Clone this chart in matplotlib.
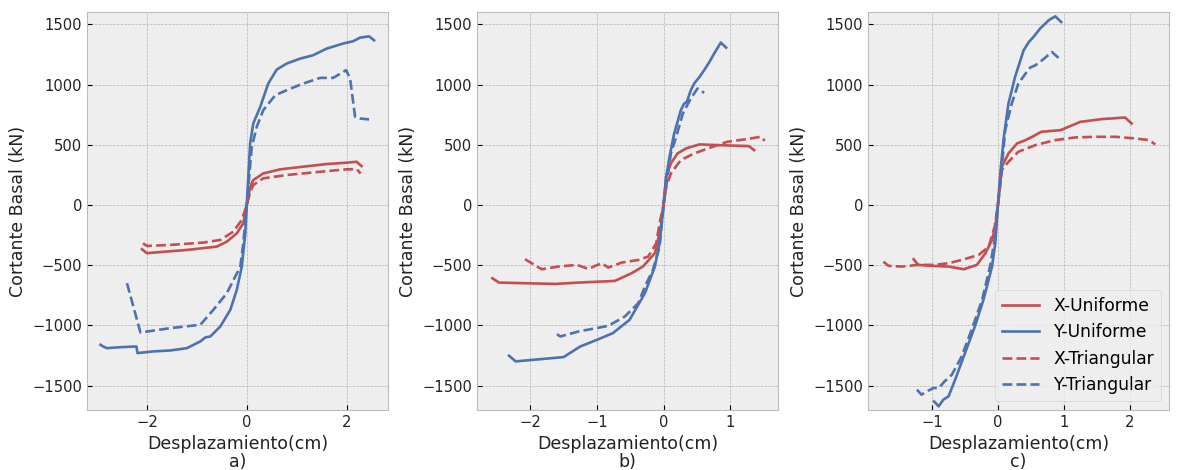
import matplotlib
matplotlib.use("Agg")
import matplotlib.pyplot as plt

plt.style.use("bmh")

RED = "#C44E52"
BLUE = "#4C72B0"

# ---- Panel a) ----
a_xu_x = [-2.1, -2.0, -1.87, -1.2, -0.6, -0.4, -0.2, -0.07, 0.0, 0.07, 0.13, 0.33, 0.67, 1.13, 1.6, 2.0, 2.2, 2.3]
a_xu_y = [-367, -400, -395, -373, -345, -304, -235, -152, 0, 152, 207, 262, 296, 318, 340, 351, 359, 323]
a_yu_x = [-2.93, -2.88, -2.8, -2.53, -2.21, -2.19, -1.87, -1.53, -1.2, -0.93, -0.83, -0.73, -0.53, -0.33, -0.2, -0.1, -0.03, 0.0,
          0.067, 0.13, 0.27, 0.43, 0.6, 0.8, 1.07, 1.33, 1.6, 1.93, 2.13, 2.27, 2.45, 2.55]
a_yu_y = [-1160, -1174, -1188, -1180, -1174, -1229, -1215, -1207, -1188, -1132, -1099, -1091, -1008, -870, -704, -511, -235, 0,
          511, 677, 815, 1008, 1124, 1174, 1215, 1243, 1298, 1340, 1359, 1389, 1400, 1367]
a_xt_x = [-2.08, -2.0, -1.53, -0.87, -0.53, -0.27, -0.1, 0.0, 0.07, 0.13, 0.33, 0.8, 1.47, 2.0, 2.2, 2.28]
a_xt_y = [-318, -340, -331, -312, -290, -221, -124, 0, 110, 166, 221, 249, 276, 296, 298, 262]
a_yt_x = [-2.4, -2.13, -1.53, -0.93, -0.67, -0.4, -0.13, -0.07, 0.0, 0.1, 0.2, 0.33, 0.57, 0.8, 1.13, 1.47, 1.73, 1.99, 2.07, 2.17, 2.27, 2.45]
a_yt_y = [-649, -1058, -1022, -994, -870, -732, -511, -318, 0, 483, 649, 787, 911, 953, 1008, 1055, 1055, 1119, 1050, 732, 718, 710]

# ---- Panel b) ----
b_xu_x = [-2.57, -2.47, -1.63, -1.28, -0.73, -0.48, -0.31, -0.13, -0.04, 0.0, 0.04, 0.11, 0.21, 0.34, 0.54, 0.81, 1.28, 1.36]
b_xu_y = [-608, -644, -655, -644, -630, -566, -511, -400, -180, 0, 235, 345, 428, 470, 503, 497, 489, 456]
b_yu_x = [-2.32, -2.22, -1.5, -1.25, -1.0, -0.76, -0.51, -0.28, -0.13, -0.06, 0.0, 0.04, 0.09, 0.16, 0.26, 0.31, 0.35, 0.41,
          0.46, 0.54, 0.61, 0.69, 0.76, 0.86, 0.94]
b_yu_y = [-1251, -1298, -1262, -1174, -1119, -1063, -953, -732, -511, -318, 0, 235, 400, 594, 787, 842, 856, 953,
          1008, 1063, 1119, 1188, 1257, 1348, 1306]
b_xt_x = [-2.08, -1.98, -1.9, -1.83, -1.58, -1.3, -1.13, -0.93, -0.83, -0.63, -0.38, -0.23, -0.11, -0.06, 0.0,
          0.04, 0.11, 0.26, 0.46, 0.71, 0.96, 1.21, 1.46, 1.52]
b_xt_y = [-450, -483, -511, -533, -511, -497, -530, -483, -519, -478, -456, -428, -318, -152, 0,
          152, 262, 373, 428, 478, 525, 544, 566, 533]
b_yt_x = [-1.6, -1.55, -1.28, -0.83, -0.58, -0.38, -0.28, -0.16, -0.06, 0.0, 0.06, 0.11, 0.19, 0.29, 0.41, 0.51, 0.61]
b_yt_y = [-1072, -1091, -1050, -1003, -925, -815, -677, -539, -345, 0, 235, 428, 566, 760, 884, 967, 931]

# ---- Panel c) ----
c_xu_x = [-1.28, -1.21, -1.0, -0.75, -0.52, -0.32, -0.19, -0.09, -0.04, 0.0, 0.06, 0.16, 0.29, 0.42, 0.52, 0.66, 0.95,
          1.25, 1.58, 1.93, 2.03]
c_xu_y = [-450, -497, -505, -511, -533, -497, -400, -290, -180, 0, 318, 428, 511, 539, 566, 608, 621,
          690, 713, 726, 677]
c_yu_x = [-0.97, -0.9, -0.83, -0.75, -0.65, -0.5, -0.35, -0.22, -0.09, -0.04, 0.0, 0.04, 0.09, 0.16, 0.26, 0.39,
          0.47, 0.54, 0.64, 0.77, 0.87, 0.96]
c_yu_y = [-1630, -1671, -1616, -1588, -1450, -1229, -1008, -787, -511, -318, 0, 290, 566, 842, 1063, 1284,
          1353, 1395, 1464, 1533, 1566, 1519]
c_xt_x = [-1.74, -1.66, -1.46, -1.21, -0.96, -0.75, -0.55, -0.29, -0.14, -0.05, 0.0, 0.06, 0.16, 0.31, 0.57, 0.87,
          1.18, 1.48, 1.79, 2.09, 2.29, 2.39]
c_xt_y = [-470, -505, -511, -497, -497, -483, -456, -414, -345, -180, 0, 290, 359, 442, 497, 539,
          561, 566, 566, 552, 539, 503]
c_yt_x = [-1.23, -1.16, -1.08, -0.98, -0.9, -0.81, -0.7, -0.55, -0.4, -0.24, -0.12, -0.05, 0.0, 0.06, 0.11, 0.21,
          0.31, 0.42, 0.49, 0.57, 0.67, 0.82, 0.92]
c_yt_y = [-1533, -1574, -1547, -1519, -1519, -1464, -1409, -1257, -1036, -787, -511, -290, 0, 318, 621, 842,
          1008, 1091, 1141, 1160, 1201, 1270, 1221]

panels = [
    ("a)", (a_xu_x, a_xu_y), (a_yu_x, a_yu_y), (a_xt_x, a_xt_y), (a_yt_x, a_yt_y), (-3.2, 2.83), [-2, 0, 2]),
    ("b)", (b_xu_x, b_xu_y), (b_yu_x, b_yu_y), (b_xt_x, b_xt_y), (b_yt_x, b_yt_y), (-2.8, 1.72), [-2, -1, 0, 1]),
    ("c)", (c_xu_x, c_xu_y), (c_yu_x, c_yu_y), (c_xt_x, c_xt_y), (c_yt_x, c_yt_y), (-1.97, 2.6), [-1, 0, 1, 2]),
]

fig = plt.figure(figsize=(11.78, 4.70), dpi=100)
lefts = [0.0739, 0.405, 0.737]
width = 0.2555
bottom, top = 0.128, 0.974
LW = 1.9

for i, (tag, xu, yu, xt, yt, xlim, xticks) in enumerate(panels):
    ax = fig.add_axes([lefts[i], bottom, width, top - bottom])
    ax.plot(*xu, color=RED, lw=LW, linestyle="-", label="X-Uniforme")
    ax.plot(*yu, color=BLUE, lw=LW, linestyle="-", label="Y-Uniforme")
    ax.plot(*xt, color=RED, lw=LW, linestyle="--", label="X-Triangular")
    ax.plot(*yt, color=BLUE, lw=LW, linestyle="--", label="Y-Triangular")
    ax.set_xlim(*xlim)
    ax.set_ylim(-1700, 1600)
    ax.set_xticks(xticks)
    ax.set_yticks([-1500, -1000, -500, 0, 500, 1000, 1500])
    ax.set_xlabel("Desplazamiento(cm)\n" + tag, fontsize=12.5, linespacing=0.95, color="#222222")
    ax.set_ylabel("Cortante Basal (kN)", fontsize=12.5, color="#222222")
    ax.tick_params(labelsize=10.6, labelcolor="#222222")
    if i == 2:
        ax.legend(loc="lower right", fontsize=12.3, handlelength=2.2)

fig.savefig("out.png", dpi=100)
